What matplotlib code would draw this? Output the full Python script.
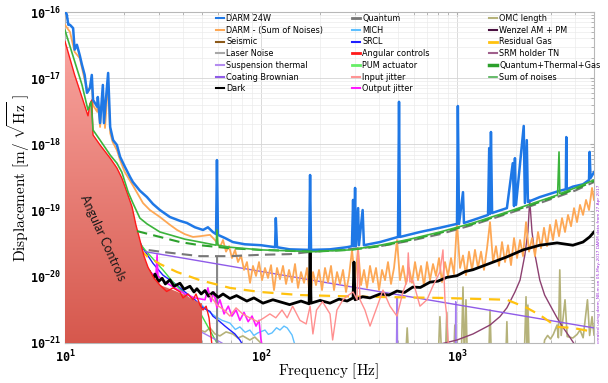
import numpy as np
import matplotlib
matplotlib.use("Agg")
import matplotlib.pyplot as plt
from matplotlib.colors import LinearSegmentedColormap
from matplotlib.lines import Line2D
from matplotlib.patches import Polygon
from matplotlib.ticker import NullFormatter

# noise budget traces, (frequency [Hz], displacement [m/rtHz])
darm_24w = [
    (10.0, 1.0e-16), (10.2, 9.3e-17), (10.4, 6.4e-17), (10.6, 6.4e-17), (11.0, 5.7e-17),
    (11.2, 2.7e-17), (11.5, 3.2e-17), (11.9, 2.2e-17), (12.2, 1.6e-17), (12.6, 1.12e-17),
    (12.95, 6.0e-18), (13.4, 7.1e-18), (13.7, 1.12e-17), (13.9, 4.7e-18), (14.6, 3.7e-18),
    (14.7, 5.2e-18), (15.1, 2.1e-18), (15.6, 7.9e-18), (15.8, 2.1e-18), (16.6, 1.2e-17),
    (17.0, 1.83e-18), (17.6, 1.16e-18), (18.4, 9.8e-19), (19.1, 6.5e-19), (20.2, 4.6e-19),
    (21.5, 3.2e-19), (22.2, 2.7e-19), (24.1, 2.0e-19), (26.2, 1.6e-19), (28.1, 1.26e-19),
    (30.5, 1.02e-19), (34.3, 8.0e-20), (38.6, 7.0e-20), (41.9, 6.5e-20), (46.0, 5.6e-20),
    (50.6, 5.1e-20), (53.6, 5.6e-20), (56.8, 4.75e-20), (59.0, 4.4e-20), (59.6, 5.8e-19),
    (60.3, 4.3e-20), (65.5, 3.85e-20), (71.8, 3.35e-20), (82.7, 3.1e-20), (100, 3.0e-20),
    (118, 2.8e-20), (119, 7.7e-20), (120.7, 2.8e-20), (140, 2.6e-20), (176, 2.55e-20),
    (178, 3.45e-19), (180, 2.55e-20), (225, 2.6e-20), (275, 2.8e-20), (291, 2.9e-20),
    (295, 1.45e-19), (298, 2.9e-20), (302, 2.2e-19), (305, 2.9e-20), (313, 1.09e-19),
    (316, 3.0e-20), (330, 1.02e-19), (335, 3.0e-20), (405, 3.35e-20), (500, 4.0e-20),
    (506, 4.4e-18), (512, 4.0e-20), (647, 4.75e-20), (818, 5.5e-20), (1000, 6.3e-20),
    (1010, 3.8e-18), (1024, 6.3e-20), (1073, 1.9e-19), (1085, 6.5e-20), (1207, 7.2e-20),
    (1440, 8.6e-20), (1460, 8.8e-19), (1474, 8.9e-20), (1490, 1.54e-18), (1510, 9.2e-20),
    (1797, 1.09e-19), (1925, 5.2e-19), (1954, 1.17e-19), (1975, 6.2e-19), (2000, 1.22e-19),
    (2190, 1.9e-18), (2220, 1.3e-19), (2270, 1.16e-18), (2300, 1.35e-19), (2645, 1.6e-19),
    (3315, 1.98e-19), (3590, 2.1e-19), (3610, 1.29e-18), (3630, 2.1e-19), (3900, 2.3e-19),
    (4395, 2.5e-19), (4716, 2.9e-19), (4750, 7.7e-19), (4800, 3.1e-19), (5000, 3.8e-19),
]

darm_minus_sum = [
    (10.0, 6.4e-17), (10.6, 5.0e-17), (11.2, 2.5e-17), (11.9, 2.0e-17), (12.6, 9.4e-18),
    (13.1, 6.2e-18), (13.7, 8.8e-18), (13.9, 3.9e-18), (14.6, 3.1e-18), (14.7, 4.7e-18),
    (15.1, 1.83e-18), (15.6, 6.2e-18), (16.0, 1.77e-18), (16.6, 8.8e-18), (17.0, 1.49e-18),
    (17.5, 1.09e-18), (18.4, 8.2e-19), (19.1, 5.8e-19), (20.2, 3.8e-19), (22.2, 2.4e-19),
    (25.0, 1.3e-19), (27.1, 1.02e-19), (30.5, 8.0e-20), (34.3, 6.1e-20), (37.3, 5.1e-20),
    (40.9, 4.4e-20), (45.0, 4.0e-20), (48.8, 4.1e-20), (54.9, 4.3e-20), (58.2, 3.6e-20),
    (61.8, 2.8e-20), (64.0, 3.6e-20), (66.3, 2.4e-20), (68.7, 2.9e-20), (71.1, 1.92e-20),
    (73.7, 2.55e-20), (76.3, 1.67e-20), (79.1, 2.1e-20), (81.9, 1.27e-20), (84.8, 1.67e-20),
    (87.9, 8.1e-21), (91.0, 1.46e-20), (94.3, 1.03e-20), (97.7, 1.67e-20), (101.2, 8.9e-21),
    (104.8, 1.36e-20), (108.6, 9.6e-21), (112.5, 1.5e-20), (116.5, 6.3e-21), (120.7, 1.36e-20),
    (125.0, 9.2e-21), (129.5, 1.46e-20), (134.2, 7.8e-21), (139.0, 1.27e-20), (144.0, 8.3e-21),
    (149.1, 1.56e-20), (154.5, 6.8e-21), (160.0, 1.18e-20), (165.8, 8.1e-21), (171.7, 1.36e-20),
    (177.8, 4.5e-21), (184.2, 1.18e-20), (190.8, 7.5e-21), (197.7, 1.27e-20), (204.8, 6.3e-21),
    (212.1, 1.36e-20), (219.7, 8.3e-21), (227.6, 1.46e-20), (235.8, 6.3e-21), (244.3, 1.18e-20),
    (253.0, 7.8e-21), (262.1, 1.27e-20), (271.5, 5.9e-21), (281.2, 1.03e-20), (291.3, 2.55e-20),
    (301.8, 8.9e-21), (312.6, 2.7e-20), (323.8, 7.5e-21), (335.4, 1.27e-20), (347.5, 6.8e-21),
    (359.9, 1.46e-20), (372.8, 8.3e-21), (386.2, 1.36e-20), (400.1, 6.3e-21), (414.4, 1.27e-20),
    (429.3, 8.9e-21), (444.6, 1.67e-20), (460.6, 7.8e-21), (477.1, 1.36e-20), (494.2, 3.6e-20),
    (512.0, 8.9e-21), (530.3, 1.46e-20), (549.3, 7.8e-21), (569.0, 1.36e-20), (589.5, 8.1e-21),
    (610.6, 1.67e-20), (632.5, 8.9e-21), (655.2, 1.46e-20), (678.7, 7.3e-21), (703.0, 1.67e-20),
    (728.3, 8.9e-21), (754.4, 1.56e-20), (781.4, 1.03e-20), (809.4, 1.92e-20), (838.4, 8.3e-21),
    (868.5, 1.67e-20), (899.7, 1.03e-20), (932.0, 1.92e-20), (965.4, 1.1e-20), (1000, 6.7e-20),
    (1036, 1.36e-20), (1073, 2.1e-20), (1111, 1.06e-20), (1151, 2.4e-20), (1193, 1.27e-20),
    (1235, 2.55e-20), (1280, 1.36e-20), (1326, 2.4e-20), (1373, 1.27e-20), (1423, 2.7e-20),
    (1474, 6.7e-20), (1527, 1.67e-20), (1581, 2.9e-20), (1638, 1.46e-20), (1697, 3.35e-20),
    (1758, 1.67e-20), (1821, 3.0e-20), (1886, 1.5e-20), (1954, 3.85e-20), (2024, 1.92e-20),
    (2097, 3.6e-20), (2172, 2.05e-20), (2250, 6.7e-20), (2331, 2.4e-20), (2414, 3.85e-20),
    (2500, 2.05e-20), (2590, 4.75e-20), (2683, 2.7e-20), (2779, 5.5e-20), (2879, 2.9e-20),
    (2982, 6.1e-20), (3089, 3.6e-20), (3200, 7.2e-20), (3315, 4.1e-20), (3434, 7.7e-20),
    (3557, 4.75e-20), (3685, 8.6e-20), (3817, 5.8e-20), (3954, 1.09e-19), (4095, 6.7e-20),
    (4243, 1.22e-19), (4395, 8.6e-20), (4553, 1.45e-19), (4716, 1.02e-19), (4886, 2.2e-19),
    (5000, 1.45e-19),
]

sum_of_noises = [
    (10.0, 5.3e-17), (11.2, 1.8e-17), (12.2, 8.0e-18), (13.1, 3.3e-18), (13.6, 4.4e-18),
    (13.9, 1.65e-18), (15.1, 1.16e-18), (17.0, 6.9e-19), (18.4, 5.2e-19), (19.5, 3.8e-19),
    (21.0, 1.9e-19), (22.2, 1.3e-19), (24.1, 7.7e-20), (26.2, 6.3e-20), (30.5, 4.75e-20),
    (34.3, 4.3e-20), (40.9, 3.7e-20), (48.8, 3.35e-20), (59.0, 3.0e-20), (59.6, 5.1e-20),
    (60.3, 3.0e-20), (69.4, 2.8e-20), (100, 2.55e-20), (184, 2.4e-20), (285, 2.55e-20),
    (405, 3.0e-20), (575, 3.7e-20), (818, 4.75e-20), (1207, 6.5e-20), (1797, 9.5e-20),
    (2645, 1.4e-19), (3260, 1.72e-19), (3315, 7.7e-19), (3345, 1.8e-19), (4000, 2.2e-19),
    (5000, 2.9e-19),
]

quantum_thermal_gas = [
    (23.3, 4.9e-20), (30.5, 4.0e-20), (38.6, 3.35e-20), (48.8, 3.0e-20), (69.4, 2.7e-20),
    (100, 2.55e-20), (184, 2.4e-20), (285, 2.55e-20), (405, 2.9e-20), (575, 3.6e-20),
    (818, 4.6e-20), (1207, 6.3e-20), (1797, 9.2e-20), (2645, 1.35e-19), (4000, 2.1e-19),
    (5000, 2.8e-19),
]

quantum = [
    (22.0, 2.7e-20), (25.0, 2.6e-20), (30.5, 2.4e-20), (48.8, 2.05e-20), (69.4, 2.05e-20),
    (100, 2.15e-20), (140, 2.2e-20), (184, 2.4e-20), (275, 2.6e-20), (405, 2.9e-20),
    (575, 3.5e-20), (818, 4.4e-20), (1207, 6.1e-20), (1797, 8.9e-20), (2645, 1.3e-19),
    (4000, 2.0e-19), (5000, 2.7e-19),
]

residual_gas = [
    (24.0, 2.6e-20), (26.2, 2.05e-20), (30.5, 1.56e-20), (37.3, 1.18e-20), (48.8, 8.9e-21),
    (69.4, 6.8e-21), (98.8, 5.9e-21), (158, 5.3e-21), (330, 5.0e-21), (818, 4.8e-21),
    (1797, 4.5e-21), (2270, 3.4e-21), (2645, 2.65e-21), (3240, 1.75e-21), (3900, 1.69e-21),
    (5000, 1.47e-21),
]

coating_brownian = [(25.6, 2.4e-20), (285, 7.1e-21), (5000, 1.69e-21)]

dark = [
    (27.1, 1.18e-20), (28.0, 9.0e-21), (28.8, 1.1e-20), (30.0, 8.5e-21), (31.3, 9.5e-21),
    (32.5, 7.8e-21), (34.3, 9.0e-21), (36.0, 7.2e-21), (38.6, 8.0e-21), (40.5, 6.5e-21),
    (43.4, 7.2e-21), (45.5, 5.9e-21), (47.1, 6.6e-21), (49.5, 5.5e-21), (51.8, 6.2e-21),
    (54.0, 5.1e-21), (56.8, 5.8e-21), (60.5, 4.9e-21), (64, 5.5e-21), (69.4, 4.7e-21),
    (75, 5.2e-21), (84.7, 4.3e-21), (92, 4.8e-21), (102.4, 4.0e-21), (115, 4.5e-21),
    (140, 3.8e-21), (160, 4.3e-21), (176, 3.9e-21), (178, 2.4e-20), (180, 4.0e-21),
    (200, 4.4e-21), (225, 4.0e-21), (250, 4.6e-21), (275, 4.3e-21), (295, 4.8e-21),
    (298, 1.67e-20), (302, 4.5e-21), (330, 5.0e-21), (360, 4.8e-21), (405, 5.5e-21),
    (450, 5.3e-21), (494, 6.1e-21), (540, 5.8e-21), (595, 7.0e-21), (650, 6.9e-21),
    (728, 8.3e-21), (800, 8.6e-21), (887, 9.8e-21), (1000, 1.04e-20), (1100, 1.2e-20),
    (1207, 1.28e-20), (1474, 1.6e-20), (1797, 2.0e-20), (2172, 2.55e-20), (2645, 3.0e-20),
    (3240, 3.25e-20), (3900, 3.0e-20), (4395, 3.35e-20), (4750, 4.0e-20), (5000, 4.75e-20),
]

angular_fill = [
    (10.0, 3.6e-17), (11.2, 1.12e-17), (12.2, 5.2e-18), (13.1, 2.7e-18), (13.4, 4.1e-18),
    (13.7, 4.7e-18), (13.9, 1.39e-18), (15.1, 9.8e-19), (17.0, 6.2e-19), (18.4, 4.4e-19),
    (19.5, 3.1e-19), (20.7, 1.9e-19), (22.0, 1.13e-19), (23.0, 6.1e-20), (24.1, 3.6e-20),
    (25.3, 2.05e-20), (26.5, 1.4e-20), (28.4, 9.6e-21), (30.5, 7.5e-21), (35.6, 6.3e-21),
    (40.9, 5.3e-21), (48.8, 4.0e-21), (50.0, 4.0e-21),
]

angular_controls = [
    (10.0, 3.6e-17), (11.2, 1.12e-17), (12.2, 5.2e-18), (13.1, 2.7e-18), (13.4, 4.1e-18),
    (13.7, 4.7e-18), (13.9, 1.39e-18), (15.1, 9.8e-19), (17.0, 6.2e-19), (18.4, 4.4e-19),
    (19.5, 3.1e-19), (20.7, 1.9e-19), (22.0, 1.13e-19), (23.0, 6.1e-20), (24.1, 3.6e-20),
    (25.3, 2.05e-20), (26.5, 1.4e-20), (28.4, 9.6e-21), (30.5, 7.5e-21), (33.0, 6.0e-21),
    (35.6, 6.8e-21), (38.6, 5.9e-21), (40.0, 4.8e-21), (42.4, 5.5e-21), (45.0, 4.5e-21),
    (46.6, 5.5e-21), (48.8, 3.75e-21), (50.6, 3.15e-21), (52.5, 3.6e-21), (54.3, 2.4e-21),
    (56.2, 9.3e-22),
]

srcl = [
    (22.2, 8.6e-20), (22.7, 4.75e-20), (25.0, 2.7e-20), (28.1, 1.6e-20), (31.6, 1.06e-20),
    (35.6, 8.3e-21), (40.9, 5.9e-21), (46.0, 4.5e-21), (50.6, 3.4e-21), (54.9, 3.0e-21),
    (56.8, 2.55e-21), (61.7, 2.1e-21), (65.5, 1.8e-21), (69.4, 1.57e-21), (73.6, 1.37e-21),
    (78.0, 1.11e-21), (82.7, 8.3e-22),
]

mich = [
    (48.8, 4.0e-21), (52.9, 3.15e-21), (58.2, 2.55e-21), (63.3, 2.2e-21), (69.4, 2.0e-21),
    (74, 1.6e-21), (78.0, 1.75e-21), (83, 1.45e-21), (87.7, 1.57e-21), (92, 1.3e-21),
    (96.3, 1.42e-21), (104.8, 1.57e-21), (109, 1.35e-21), (113.8, 1.42e-21), (120, 1.7e-21),
    (125, 1.57e-21), (131, 1.8e-21), (136, 1.69e-21), (144, 1.32e-21), (149, 9.3e-22),
    (158, 6e-22),
]

pum_actuator = [
    (22.0, 4.5e-20), (25.6, 2.55e-20), (31.6, 1.27e-20), (35.6, 8.3e-21), (47.1, 3.5e-21),
    (59.6, 1.0e-21), (65.5, 7e-22),
]

output_jitter = [
    (27.1, 1.18e-20), (29.1, 1.03e-20), (29.5, 2.15e-20), (29.8, 1.03e-20), (32.4, 8.3e-21),
    (36.4, 6.8e-21), (40.9, 5.5e-21), (46.0, 4.8e-21), (51.8, 4.5e-21), (53.6, 6.8e-21),
    (55.6, 4.2e-21), (57.5, 5.9e-21), (59.6, 3.4e-21), (61.7, 4.5e-21), (64.8, 2.75e-21),
    (68.1, 3.6e-21), (71.1, 2.55e-21), (74.6, 3.15e-21), (78.0, 2.2e-21), (81.9, 2.9e-21),
    (86.0, 2.1e-21), (90.0, 2.55e-21), (94.3, 1.8e-21), (97.7, 2.2e-21), (100, 1.11e-21),
    (102.4, 7.8e-22),
]

input_jitter = [
    (54.9, 5.3e-21), (59.6, 3.75e-21), (64.8, 3.15e-21), (69.4, 2.55e-21), (74.6, 3.4e-21),
    (80.5, 2.75e-21), (87.7, 2.4e-21), (96.3, 2.1e-21), (103.6, 2.4e-21), (111, 2.75e-21),
    (119, 2.4e-21), (128, 3.15e-21), (136, 2.4e-21), (145, 3.6e-21), (158, 2.2e-21),
    (170, 1.94e-21), (178, 3.6e-21), (184, 1.37e-21), (192, 3.15e-21), (206, 4.2e-21),
    (225, 2.75e-21), (232, 1.11e-21), (244, 3.15e-21), (262, 4.5e-21), (275, 5.1e-21),
    (295, 5.9e-21), (309, 4.5e-21), (313, 2.7e-20), (320, 4.5e-21), (339, 3.15e-21),
    (360, 1.8e-21), (392, 3.6e-21), (419, 6.3e-21), (455, 3.6e-21), (494, 2.55e-21),
    (530, 5.9e-21), (557, 8.9e-21), (564, 2.3e-20), (575, 8.3e-21), (595, 8.9e-21),
    (647, 3.6e-21), (703, 4.5e-21), (754, 7.3e-21), (818, 1.18e-20), (848, 2.55e-20),
    (868, 4.5e-21), (887, 2.55e-21), (910, 6e-22),
]

omc_length = [
    (46.0, 1.8e-21), (48.8, 1.57e-21), (51.8, 1.47e-21), (54.9, 1.69e-21), (58.2, 1.37e-21),
    (61.7, 1.28e-21), (66.3, 1.47e-21), (71.8, 1.37e-21), (76.3, 1.19e-21), (80.8, 1.28e-21),
    (87.7, 1.11e-21), (93.0, 1.23e-21), (98.8, 1.03e-21), (104.8, 7.8e-22), (110, 5e-22),
    (545, 5e-22), (557, 1.69e-21), (569, 5e-22), (800, 5e-22), (818, 2.5e-21), (838, 5e-22),
    (870, 5e-22), (887, 2.9e-21), (900, 5e-22), (960, 5e-22), (975, 1.87e-21), (990, 5e-22),
    (1050, 5e-22), (1073, 7.0e-21), (1090, 5e-22), (1111, 4.5e-21), (1130, 5e-22),
    (1450, 5e-22), (1474, 3.15e-21), (1500, 5e-22), (1770, 5e-22), (1797, 2.1e-21),
    (1820, 5e-22), (2200, 5e-22), (2250, 5.0e-21), (2275, 8e-22), (2300, 3.75e-21),
    (2340, 5e-22), (2700, 5e-22), (2800, 1.11e-21), (2900, 1.3e-21), (3000, 1.15e-21),
    (3100, 1.35e-21), (3240, 1.87e-21), (3290, 1.2e-21), (3345, 1.27e-20), (3400, 1.3e-21),
    (3557, 4.5e-21), (3650, 1.25e-21), (3900, 1.19e-21), (4100, 1.35e-21), (4243, 1.57e-21),
    (4400, 1.2e-21), (4630, 4.5e-21), (4750, 1.3e-21), (4886, 2.5e-21), (5000, 1.32e-21),
]

srm_holder_tn = [
    (818, 9.6e-22), (1000, 1.11e-21), (1207, 1.37e-21), (1474, 1.87e-21), (1655, 2.5e-21),
    (1797, 3.4e-21), (1975, 5.9e-21), (2097, 8.9e-21), (2220, 2.15e-20), (2300, 4.75e-20),
    (2350, 1.45e-19), (2414, 4.75e-20), (2500, 2.15e-20), (2645, 8.9e-21), (2800, 5.3e-21),
    (2982, 3.75e-21), (3240, 2.4e-21), (3460, 1.75e-21), (3760, 1.23e-21), (4000, 9.3e-22),
]

suspension_thermal = [
    (46.0, 1.65e-21), (50.6, 1.42e-21), (63.3, 1.0e-21), (70, 5e-22), (490, 5e-22),
    (494, 4.8e-21), (498, 5e-22), (980, 5e-22), (985, 4.2e-21), (990, 5e-22), (5000, 5e-22),
]

laser_noise = [(50, 5e-22), (59.3, 5e-22), (59.6, 2.05e-20), (59.9, 5e-22), (70, 5e-22)]

seismic = []
wenzel_am_pm = []

# legend columns: (label, colour, handle width)
legend_col1 = [("DARM 24W", "#1f78e6", 1.5), ("DARM - (Sum of Noises)", "#fda856", 1.5),
               ("Seismic", "#8c5a1a", 1.5), ("Laser Noise", "#a8a8a8", 1.5),
               ("Suspension thermal", "#b48cf0", 1.5), ("Coating Brownian", "#8f5be8", 1.5),
               ("Dark", "#000000", 1.5)]
legend_col2 = [("Quantum", "#777777", 2.0), ("MICH", "#5ec0ff", 1.5), ("SRCL", "#1f1fff", 1.5),
               ("Angular controls", "#ff1a1a", 2.0), ("PUM actuator", "#66ee66", 2.0),
               ("Input jitter", "#ff9595", 1.5), ("Output jitter", "#ff1aff", 1.5)]
legend_col3 = [("OMC length", "#b5b27a", 1.5), ("Wenzel AM + PM", "#4a1040", 1.5),
               ("Residual Gas", "#ffc20e", 2.0), ("SRM holder TN", "#a0608c", 1.5),
               ("Quantum+Thermal+Gas", "#2ca02c", 2.5), ("Sum of noises", "#4caf50", 1.2)]


def xy(pairs):
    if len(pairs) == 0:
        return [], []
    a = np.array(pairs, dtype=float)
    return a[:, 0], a[:, 1]


fig = plt.figure(figsize=(6.08, 3.83), dpi=100)
ax = fig.add_axes([65 / 608, 40 / 383, 529 / 608, 331 / 383])
ax.set_xscale("log")
ax.set_yscale("log")
ax.set_xlim(10, 5000)
ax.set_ylim(1e-21, 1e-16)
ax.set_autoscale_on(False)

# gradient filled angular controls region, drawn over the low lying curves
ff, fv = xy(angular_fill)
verts = np.vstack([np.column_stack([ff, fv]), [[ff[-1], 1e-23], [ff[0], 1e-23]]])
poly = Polygon(verts, closed=True, transform=ax.transData, facecolor="none", edgecolor="none")
grad = np.linspace(1, 0, 256).reshape(-1, 1)
cmap = LinearSegmentedColormap.from_list("ang", ["#d6584d", "#fcaba6"])
im = ax.imshow(grad, extent=[0, 1, 0, 1], transform=ax.transAxes, aspect="auto",
               cmap=cmap, origin="upper", zorder=4.9, interpolation="bilinear")
im.set_clip_path(poly)
ax.set_xlim(10, 5000)
ax.set_ylim(1e-21, 1e-16)

# low lying noise terms
for data, col, lw, z in [(omc_length, "#b5b27a", 1.2, 2), (mich, "#5ec0ff", 1.0, 2.1),
                         (srcl, "#1f1fff", 1.0, 2.2), (pum_actuator, "#44dd44", 1.0, 2.2),
                         (suspension_thermal, "#a47cf0", 1.0, 2.3), (laser_noise, "#888888", 1.0, 2.3),
                         (srm_holder_tn, "#8c4070", 1.0, 2.4), (seismic, "#8c5a1a", 1.0, 2),
                         (wenzel_am_pm, "#4a1040", 1.0, 2)]:
    f, v = xy(data)
    ax.plot(f, v, color=col, lw=lw, zorder=z)

f, v = xy(output_jitter)
ax.plot(f, v, color="#ff1aff", lw=1.2, zorder=2.5)
f, v = xy(input_jitter)
ax.plot(f, v, color="#ff8f8f", lw=1.0, zorder=4.6)
f, v = xy(coating_brownian)
ax.plot(f, v, color="#8f5be8", lw=1.0, zorder=2.6)
f, v = xy(residual_gas)
ax.plot(f, v, color="#ffc20e", lw=1.6, dashes=(5, 3.5), zorder=2.7)
f, v = xy(angular_controls)
ax.plot(f, v, color="#ff1a1a", lw=1.0, zorder=4.95)

# main traces
f, v = xy(darm_minus_sum)
ax.plot(f, v, color="#fda856", lw=1.3, zorder=4)
f, v = xy(dark)
ax.plot(f, v, color="#000000", lw=2.0, zorder=4.5)
f, v = xy(quantum)
ax.plot(f, v, color="#777777", lw=1.5, dashes=(5, 3), zorder=4.8)
f, v = xy(darm_24w)
ax.plot(f, v, color="#1f78e6", lw=1.8, zorder=5)
f, v = xy(quantum_thermal_gas)
ax.plot(f, v, color="#2ca02c", lw=1.5, dashes=(5, 3), zorder=5.1)
f, v = xy(sum_of_noises)
ax.plot(f, v, color="#3cb43c", lw=1.2, zorder=5.2)

ax.text(15.6, 3.85e-20, "Angular Controls", rotation=-65.5, rotation_mode="anchor",
        ha="center", va="center", fontsize=9, family="Lato", color="#1a1a1a", zorder=6)

# axes styling (matlab like)
ax.grid(True, which="major", color="#d4d4d4", lw=0.6)
ax.grid(True, which="minor", color="#ebebeb", lw=0.5)
ax.set_axisbelow(True)
for s in ax.spines.values():
    s.set_color("#b8b8b8")
ax.tick_params(which="both", direction="in", top=True, right=True, color="#aaaaaa")
ax.tick_params(which="major", length=3)
ax.tick_params(which="minor", length=2)

tick_font = dict(fontfamily="DejaVu Sans Mono", fontweight="bold", fontsize=8.5)
ax.set_xticks([10, 100, 1000], [r"$\mathdefault{10^{1}}$", r"$\mathdefault{10^{2}}$",
                                r"$\mathdefault{10^{3}}$"], **tick_font)
ax.set_yticks([1e-21, 1e-20, 1e-19, 1e-18, 1e-17, 1e-16],
              [r"$\mathdefault{10^{-21}}$", r"$\mathdefault{10^{-20}}$", r"$\mathdefault{10^{-19}}$",
               r"$\mathdefault{10^{-18}}$", r"$\mathdefault{10^{-17}}$", r"$\mathdefault{10^{-16}}$"],
              **tick_font)
ax.xaxis.set_minor_formatter(NullFormatter())
ax.yaxis.set_minor_formatter(NullFormatter())
ax.tick_params(axis="x", pad=4)
ax.tick_params(axis="y", pad=3)
ax.set_xlim(10, 5000)
ax.set_ylim(1e-21, 1e-16)

# axis labels placed in figure pixels
fig.text(328 / 608, 1 - 371 / 383, r"$\mathrm{Frequency\ [Hz]}$", fontsize=11,
         math_fontfamily="cm", ha="center", va="center")
fig.text(19 / 608, 1 - 178 / 383, r"$\mathrm{Displacement}\ [\mathrm{m}/\ \sqrt{\mathrm{Hz}}\ ]$",
         fontsize=11, math_fontfamily="cm", rotation=90, ha="center", va="center")

# three legend columns placed like the matlab legend
legs = []
for col, x0 in [(legend_col1, 216), (legend_col2, 352), (legend_col3, 489)]:
    handles = [Line2D([], [], color=c, lw=w) for _, c, w in col]
    labels = [n for n, _, _ in col]
    leg = ax.legend(handles, labels, loc="upper left", bbox_to_anchor=(x0 / 608, 1 - 14 / 383),
                    bbox_transform=fig.transFigure, frameon=False, fontsize=5.9,
                    handlelength=1.0, handletextpad=0.25, labelspacing=0.33,
                    borderpad=0, borderaxespad=0)
    leg.set_zorder(7)
    legs.append(leg)
for leg in legs[:-1]:
    ax.add_artist(leg)

fig.text(597 / 608, 40 / 383, "created using darm_NB.m on 05-May-2017 DARM data from 27 Apr 2017",
         rotation=90, fontsize=3.2, color="#9b30d9", ha="left", va="bottom")

fig.savefig("out.png", dpi=100)
